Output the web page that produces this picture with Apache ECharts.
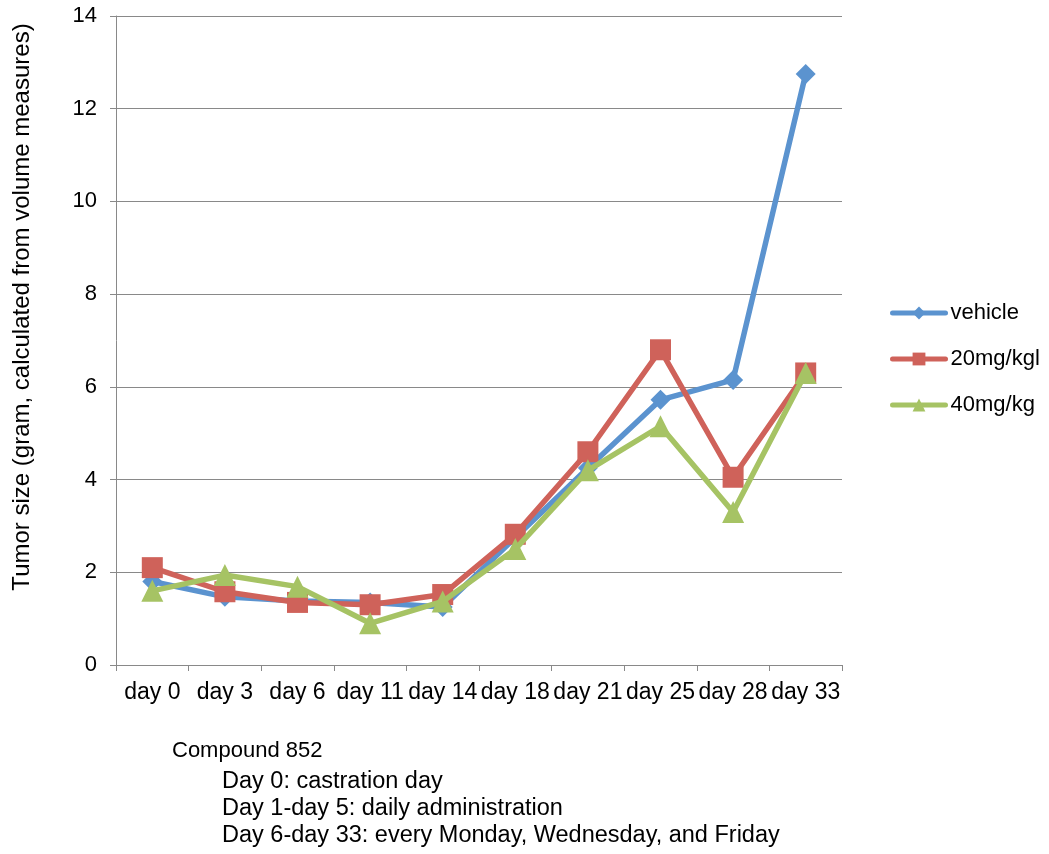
<!DOCTYPE html>
<html><head><meta charset="utf-8">
<script src="https://cdn.jsdelivr.net/npm/echarts@6/dist/echarts.min.js"></script>
<style>html,body{margin:0;padding:0;background:#fff}#c{width:1049px;height:854px}</style>
</head><body><div id="c"></div>
<script>
const categories = ['day 0','day 3','day 6','day 11','day 14','day 18','day 21','day 25','day 28','day 33'];
const vehicle = [1.8, 1.47, 1.38, 1.35, 1.25, 2.75, 4.25, 5.72, 6.15, 12.75];
const mg20 = [2.1, 1.58, 1.35, 1.3, 1.52, 2.82, 4.6, 6.8, 4.05, 6.3];
const mg40 = [1.6, 1.94, 1.69, 0.9, 1.37, 2.5, 4.2, 5.15, 3.3, 6.3];
const seriesNames = ['vehicle','20mg/kgl','40mg/kg'];
const yTicks = [0,2,4,6,8,10,12,14];
const yAxisTitle = 'Tumor size (gram, calculated from volume measures)';
const notes = ['Compound 852','Day 0: castration day','Day 1-day 5: daily administration','Day 6-day 33: every Monday, Wednesday, and Friday'];

const FONT = '"Liberation Sans", Arial, Helvetica, sans-serif';
const colors = ['#5B93CF','#CF625A','#A6C364'];
const chart = echarts.init(document.getElementById('c'));
const mk = (name, data, sym, size, i) => ({
  name, type:'line', data, symbol:sym, symbolSize:size,
  lineStyle:{width:5.5,color:colors[i]}, itemStyle:{color:colors[i]},
  z: 2+i
});
chart.setOption({
  animation:false,
  color: colors,
  textStyle:{fontFamily:FONT, color:'#000'},
  grid:{left:116,right:207,top:16,bottom:189},
  legend:{
    orient:'vertical', left:885, top:297, itemGap:24, itemWidth:53, itemHeight:16,
    lineStyle:{width:5, cap:'round'},
    textStyle:{fontSize:22, lineHeight:22, fontFamily:FONT, color:'#000'},
    data: seriesNames
  },
  xAxis:{
    type:'category', data:categories, boundaryGap:true,
    axisLine:{lineStyle:{color:'#898989',width:1}},
    axisTick:{show:true,length:6,alignWithLabel:false,lineStyle:{color:'#898989'}},
    axisLabel:{fontSize:23,color:'#000',margin:16,fontFamily:FONT,interval:0}
  },
  yAxis:{
    type:'value', min:0, max:14, interval:2,
    axisLine:{show:true,lineStyle:{color:'#898989'}},
    axisTick:{show:true,length:6,lineStyle:{color:'#898989'}},
    splitLine:{lineStyle:{color:'#898989',width:1}},
    axisLabel:{fontSize:22,color:'#000',margin:19,fontFamily:FONT,
      formatter: v => yTicks.includes(v) ? String(v) : ''}
  },
  graphic:[
    {type:'text', x:22, y:307, rotation:Math.PI/2, style:{text:yAxisTitle, fontSize:24, fontFamily:FONT, fill:'#000', align:'center', verticalAlign:'middle'}},
    {type:'text', x:172, y:751, style:{text:notes[0], fontSize:22, fontFamily:FONT, fill:'#000', verticalAlign:'middle'}},
    {type:'text', x:222, y:782, style:{text:notes[1], fontSize:23.5, fontFamily:FONT, fill:'#000', verticalAlign:'middle'}},
    {type:'text', x:222, y:809, style:{text:notes[2], fontSize:23.5, fontFamily:FONT, fill:'#000', verticalAlign:'middle'}},
    {type:'text', x:222, y:836, style:{text:notes[3], fontSize:23.5, fontFamily:FONT, fill:'#000', verticalAlign:'middle'}}
  ],
  series:[
    mk(seriesNames[0], vehicle, 'diamond', 20, 0),
    mk(seriesNames[1], mg20, 'rect', 21, 1),
    mk(seriesNames[2], mg40, 'triangle', 22, 2)
  ]
});
</script></body></html>
